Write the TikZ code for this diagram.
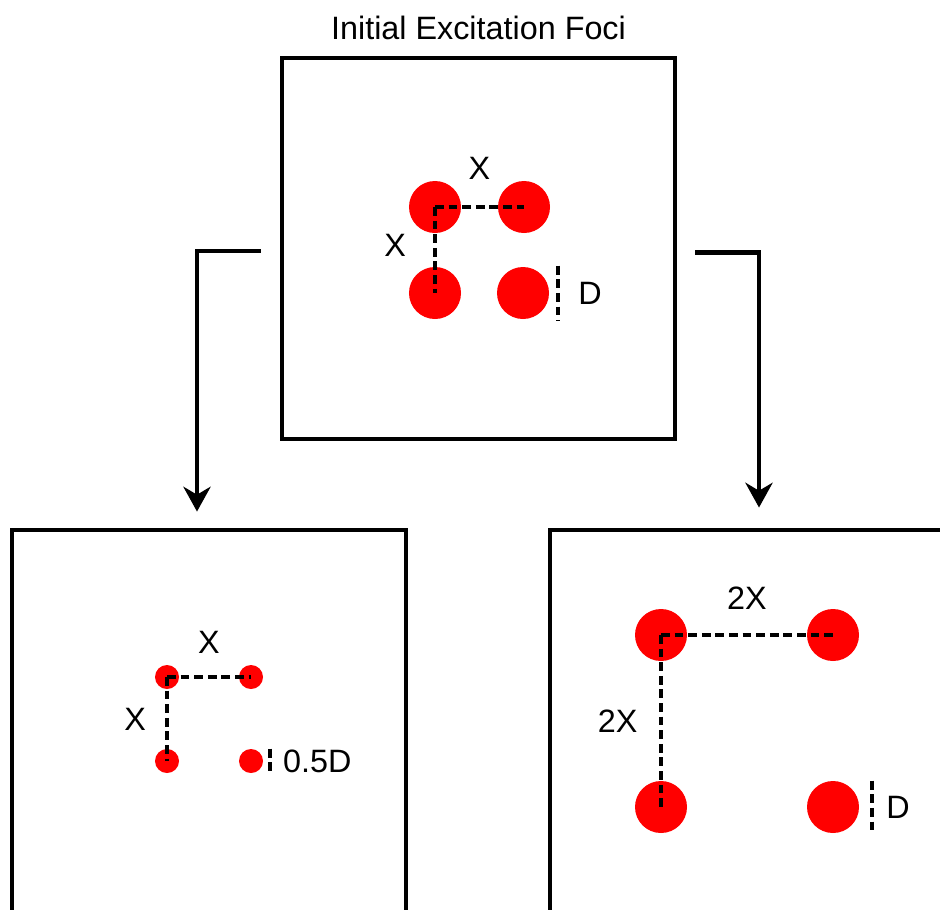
\documentclass[tikz,border=0pt]{standalone}
\usepackage{fontspec}
\setmainfont{Liberation Sans}
\usetikzlibrary{arrows.meta,positioning,calc}

\begin{document}
\begin{tikzpicture}[
  x=0.025cm, y=-0.025cm,
  panel/.style={draw=black, line width=0.12cm, inner sep=0pt,
                minimum width=9.85cm, minimum height=10.5cm},
  focus/.style={circle, fill=red, inner sep=0pt, minimum size=1.3cm},
  smallfocus/.style={focus, minimum size=0.6cm},
  gap/.style={black, line width=0.12cm, dash pattern=on 0.22cm off 0.12cm},
  flow/.style={-{Stealth[length=0.62cm, width=0.68cm, inset=0.2cm]}, black, line width=0.12cm},
  lbl/.style={font=\fontsize{23}{28}\selectfont, inner sep=0pt},
]
  \useasboundingbox (0,0) rectangle (940,909);
  \clip (0,0) rectangle (940,909);

  %% Panels
  \node[panel, minimum width=9.825cm, minimum height=9.525cm] (initial) at (478.5,248.5) {};
  \node[panel] (smaller) at (209,740) {};
  \node[panel] (wider) at (747,740) {};
  \node[lbl, above=0.38cm of initial] (title) {Initial Excitation Foci};

  %% Foci in the initial panel
  \node[focus] (i1) at (435,207) {};
  \node[focus] (i2) at (524,207) {};
  \node[focus] (i3) at (435,293) {};
  \node[focus] (i4) at (523,293) {};
  \draw[gap] (i1.center) -- (i2.center);
  \draw[gap] (i1.center) -- (i3.center);
  \draw[gap] ($(i4.north)+(35,-1)$) coordinate (id1) -- ($(i4.south)+(35,1)$) coordinate (id2);
  \node[lbl, above=0.67cm of $(i1.center)!0.5!(i2.center)$] (ixh) {X};
  \node[lbl, left=0.72cm of $(i1.center)!0.5!(i3.center)$, yshift=0.12cm] (ixv) {X};
  \node[lbl, right=0.5cm of $(id1)!0.5!(id2)$] (idia) {D};

  %% Foci with half the diameter
  \node[smallfocus] (s1) at (167,677) {};
  \node[smallfocus] (s2) at (251,677) {};
  \node[smallfocus] (s3) at (167,761) {};
  \node[smallfocus] (s4) at (251,761) {};
  \draw[gap] (s1.center) -- (s2.center);
  \draw[gap] (s1.center) -- (s3.center);
  \draw[gap] ($(s4.north)+(19,0)$) coordinate (sd1) -- ($(s4.south)+(19,0)$) coordinate (sd2);
  \node[lbl, above=0.59cm of $(s1.center)!0.5!(s2.center)$] (sxh) {X};
  \node[lbl, left=0.52cm of $(s1.center)!0.5!(s3.center)$] (sxv) {X};
  \node[lbl, right=0.32cm of $(sd1)!0.5!(sd2)$] (sdia) {0.5D};

  %% Foci at twice the spacing
  \node[focus] (w1) at (661,635) {};
  \node[focus] (w2) at (833,635) {};
  \node[focus] (w3) at (661,807) {};
  \node[focus] (w4) at (833,807) {};
  \draw[gap] (w1.center) -- (w2.center);
  \draw[gap] (w1.center) -- (w3.center);
  \draw[gap] ($(w4.north)+(39,0)$) coordinate (wd1) -- ($(w4.south)+(39,0)$) coordinate (wd2);
  \node[lbl, above=0.64cm of $(w1.center)!0.5!(w2.center)$] (wxh) {2X};
  \node[lbl, left=0.58cm of $(w1.center)!0.5!(w3.center)$] (wxv) {2X};
  \node[lbl, right=0.35cm of $(wd1)!0.5!(wd2)$] (wdia) {D};

  %% Elbow arrows down to the two variants
  \draw[flow] ([xshift=-0.475cm, yshift=-0.06cm]initial.west) -| ([xshift=-0.3cm, yshift=0.4cm]smaller.north);
  \draw[flow] ([xshift=0.45cm, yshift=-0.1cm]initial.east) -| ([xshift=0.3cm, yshift=0.5cm]wider.north);

\end{tikzpicture}
\end{document}
